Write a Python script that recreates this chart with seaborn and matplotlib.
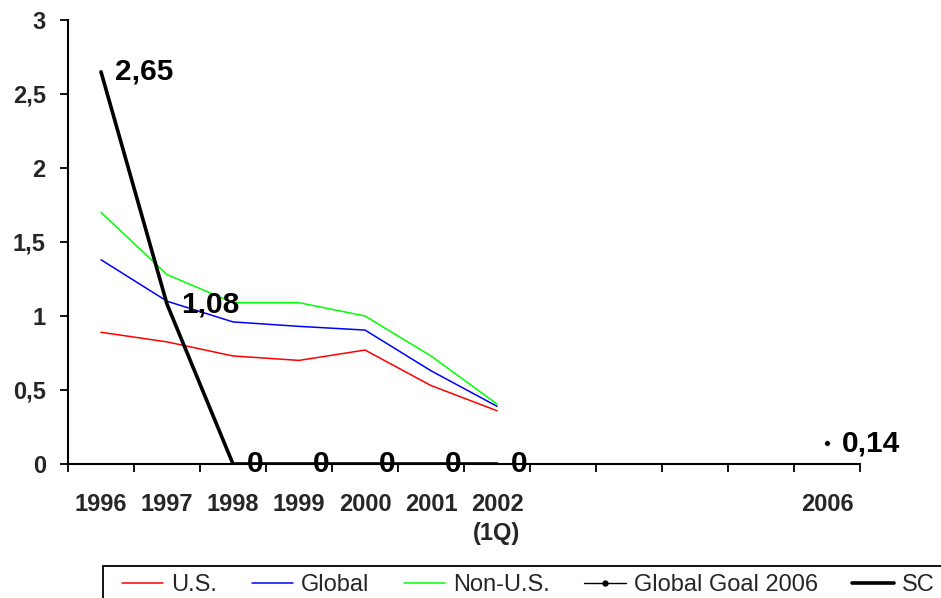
import matplotlib
matplotlib.use("Agg")
import matplotlib.pyplot as plt
from matplotlib.lines import Line2D
from matplotlib.patches import Rectangle
import seaborn as sns
import pandas as pd

categories = ["1996", "1997", "1998", "1999", "2000", "2001", "2002\n(1Q)", "", "", "", "", "2006"]
us = [0.89, 0.825, 0.73, 0.70, 0.77, 0.53, 0.36]
global_ = [1.38, 1.10, 0.96, 0.93, 0.905, 0.63, 0.39]
non_us = [1.70, 1.28, 1.09, 1.09, 1.00, 0.73, 0.405]
sc = [2.65, 1.08, 0, 0, 0, 0, 0]
sc_labels = ["2,65", "1,08", "0", "0", "0", "0", "0"]
goal_cat = ["2006"]
goal = [0.14]
goal_labels = ["0,14"]
yticks = [0, 0.5, 1, 1.5, 2, 2.5, 3]
ytick_labels = ["0", "0,5", "1", "1,5", "2", "2,5", "3"]

sns.set_style("white")
plt.rcParams["font.family"] = ["Liberation Sans", "DejaVu Sans"]

pos = {c: i for i, c in enumerate(categories)}
n = len(us)
df = pd.DataFrame({
    "x": list(range(n)) * 4,
    "y": us + global_ + non_us + sc,
    "series": ["U.S."] * n + ["Global"] * n + ["Non-U.S."] * n + ["SC"] * n,
})
gdf = pd.DataFrame({"x": [pos[c] for c in goal_cat], "y": goal})

fig = plt.figure(figsize=(9.41, 5.98), dpi=100)
ax = fig.add_axes([68 / 941, 1 - 464 / 598, 792 / 941, 444 / 598])

styles = {"U.S.": ("#FF0000", 1.1), "Global": ("#0000FF", 1.1),
          "Non-U.S.": ("#00FF00", 1.1), "SC": ("#000000", 2.6)}
for s in ["U.S.", "Global", "Non-U.S.", "SC"]:
    col, lw = styles[s]
    sns.lineplot(data=df[df.series == s], x="x", y="y", ax=ax, color=col, lw=lw,
                 legend=False, zorder=3 if s == "SC" else 2)
sns.scatterplot(data=gdf, x="x", y="y", ax=ax, color="black", s=16, legend=False, zorder=4)

for i, (v, t) in enumerate(zip(sc, sc_labels)):
    ax.annotate(t, (i, v), xytext=(14, 0), textcoords="offset pixels",
                ha="left", va="center", fontsize=21.5, fontweight="bold", zorder=5, color="black")
for c, v, t in zip(goal_cat, goal, goal_labels):
    ax.annotate(t, (pos[c], v), xytext=(15, 0), textcoords="offset pixels",
                ha="left", va="center", fontsize=21.5, fontweight="bold", zorder=5, color="black")

ax.set_xlim(-0.5, len(categories) - 0.5)
ax.set_ylim(0, 3)
ax.set_yticks(yticks)
ax.set_yticklabels(ytick_labels, fontsize=17, fontweight="bold")
ax.set_xticks(range(len(categories)))
ax.set_xticklabels(categories, fontsize=17, fontweight="bold", linespacing=1.35)
ax.set_xticks([i - 0.5 for i in range(len(categories) + 1)], minor=True)
ax.tick_params(axis="x", which="major", bottom=True, length=0, pad=21)
ax.tick_params(axis="x", which="minor", bottom=True, length=6, width=1.3, direction="out", color="black")
ax.tick_params(axis="y", which="major", left=True, length=6, width=1.3, direction="out", color="black", pad=10)
ax.set_xlabel("")
ax.set_ylabel("")
for sp in ["top", "right"]:
    ax.spines[sp].set_visible(False)
for sp in ["left", "bottom"]:
    ax.spines[sp].set_color("black")
    ax.spines[sp].set_linewidth(1.5)
ax.spines["bottom"].set_zorder(1)

# legend frame (extends beyond the figure edge, as in the reference)
fig.patches.append(Rectangle((103 / 941, -0.05), 1.0, 1 - 566 / 598 + 0.05,
                             transform=fig.transFigure, fill=False, edgecolor="black",
                             linewidth=1.3, zorder=1))

handles = [
    Line2D([], [], color="#FF0000", lw=1.1),
    Line2D([], [], color="#0000FF", lw=1.1),
    Line2D([], [], color="#00FF00", lw=1.1),
    Line2D([], [], color="black", lw=1.0, marker="o", markersize=3.5),
    Line2D([], [], color="black", lw=2.6),
]
labels = ["U.S.", "Global", "Non-U.S.", "Global Goal 2006", "SC"]
leg = fig.legend(handles, labels, loc="upper left", bbox_to_anchor=(122 / 941, 1 - 574 / 598),
                 ncol=5, frameon=False, handlelength=1.75,
                 handletextpad=0.35, columnspacing=1.45, borderpad=0, borderaxespad=0,
                 prop={"family": "Liberation Sans", "size": 17})

fig.savefig("out.png", dpi=100)
